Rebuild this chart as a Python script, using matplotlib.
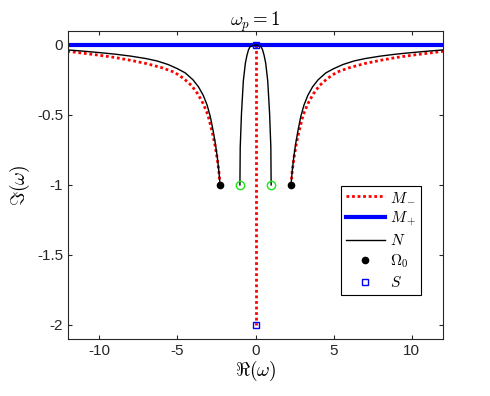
import matplotlib
matplotlib.use("Agg")
import matplotlib.pyplot as plt

# valeurs (branche droite, la gauche est symetrique)
n_in_re = [0, 0.2, 0.35, 0.45, 0.55, 0.65, 0.78, 0.9, 0.98, 1.0]
n_in_im = [0, -0.004, -0.013, -0.035, -0.075, -0.13, -0.256, -0.49, -0.73, -1.0]

n_out_re = [2.27, 2.35, 2.45, 2.58, 2.72, 2.9, 3.1, 3.35, 3.65, 4.0, 4.5, 5.0, 5.6,
            6.3, 7.0, 8.0, 9.0, 10.0, 11.0, 12.0]
n_out_im = [-1.0, -0.9, -0.8, -0.7, -0.61, -0.51, -0.43, -0.36, -0.3, -0.25, -0.2, -0.17, -0.14,
            -0.115, -0.098, -0.08, -0.066, -0.055, -0.045, -0.036]

m_out_re = [2.27, 2.35, 2.47, 2.62, 2.8, 3.05, 3.35, 3.7, 4.1, 4.6, 5.2, 6.0, 7.0,
            8.0, 9.0, 10.0, 11.0, 12.0]
m_out_im = [-1.0, -0.9, -0.8, -0.7, -0.61, -0.5, -0.42, -0.35, -0.29, -0.24, -0.195, -0.163, -0.133,
            -0.11, -0.09, -0.074, -0.06, -0.046]

m_axe_re = [0, 0]
m_axe_im = [0, -2]

mplus_re = [-12, 12]
mplus_im = [0, 0]

omega0_re = [-2.27, 2.27]
omega0_im = [-1, -1]

s_re = [0, 0]
s_im = [0, -2]

vert_re = [-1, 1]
vert_im = [-1, -1]

plt.rcParams['font.family'] = ['Liberation Sans', 'DejaVu Sans']
plt.rcParams['mathtext.fontset'] = 'cm'
plt.rcParams['axes.unicode_minus'] = False

fig = plt.figure(figsize=(4.9, 3.96), dpi=100)
ax = fig.add_axes([0.139, 0.144, 0.765, 0.778])

def miroir(v):
    return [-x for x in v]

rouge = dict(color='red', lw=2, ls=(0, (1, 1)))
ax.plot(m_axe_re, m_axe_im, label='$M_-$', **rouge)
ax.plot(m_out_re, m_out_im, **rouge)
ax.plot(miroir(m_out_re), m_out_im, **rouge)

ax.plot(mplus_re, mplus_im, color='blue', lw=3, label='$M_+$')

ax.plot(n_in_re, n_in_im, color='black', lw=1, label='$N$')
ax.plot(miroir(n_in_re), n_in_im, color='black', lw=1)
ax.plot(n_out_re, n_out_im, color='black', lw=1)
ax.plot(miroir(n_out_re), n_out_im, color='black', lw=1)

ax.plot(omega0_re, omega0_im, 'o', color='black', ms=4.5, ls='none', label=r'$\Omega_0$')
ax.plot(s_re, s_im, 's', mfc='none', mec='blue', ms=4.5, mew=1, ls='none', label='$S$')
ax.plot(vert_re, vert_im, 'o', mfc='none', mec=(0.1, 0.9, 0.1), ms=6, mew=1, ls='none')

ax.set_xlim(-12, 12)
ax.set_ylim(-2.1, 0.1)
ax.set_xticks([-10, -5, 0, 5, 10])
ax.set_yticks([-2, -1.5, -1, -0.5, 0])
ax.set_yticklabels(['-2', '-1.5', '-1', '-0.5', '0'])
ax.tick_params(direction='in', top=True, right=True, labelsize=11,
               colors=(0.15, 0.15, 0.15), length=3)
for s in ax.spines.values():
    s.set_color((0.15, 0.15, 0.15))

ax.set_xlabel(r'$\Re(\omega)$', fontsize=14, labelpad=1)
ax.set_ylabel(r'$\Im(\omega)$', fontsize=14, labelpad=4)
ax.set_title(r'$\omega_p = 1$', fontsize=13.5, pad=4)

leg = ax.legend(loc='upper left', bbox_to_anchor=(0.728, 0.497), fontsize=11,
                fancybox=False, edgecolor='black', framealpha=1,
                handlelength=2.6, borderpad=0.3, labelspacing=0.32,
                handletextpad=0.3, borderaxespad=0)
leg.get_frame().set_linewidth(0.8)

plt.savefig("out.png", dpi=100)
